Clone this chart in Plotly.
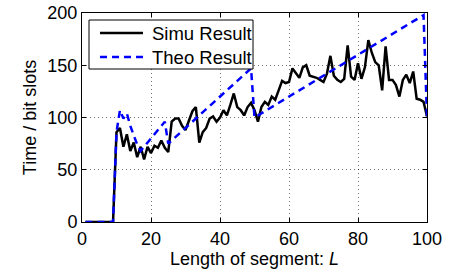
import plotly.graph_objects as go

segment_length = list(range(1, 101))

simu_result = [
    0, 0, 0, 0, 0, 0, 0, 0, 0,
    86, 90, 72, 84, 68, 76, 62, 72, 60, 72,
    66, 73, 71, 78, 71, 67, 96, 99, 99, 92,
    88, 98, 106, 110, 76, 86, 90, 99, 101, 96,
    100, 107, 102, 112, 123, 110, 107, 102, 110, 114,
    107, 96, 110, 115, 112, 120, 117, 126, 135, 133,
    134, 147, 143, 138, 148, 150, 140, 139, 138, 136,
    134, 142, 159, 140, 136, 134, 137, 169, 139, 136,
    152, 137, 148, 174, 162, 153, 150, 126, 168, 136,
    136, 131, 120, 136, 141, 133, 144, 118, 117, 115,
    101,
]

theo_result = [
    0, 0, 0, 0, 0, 0, 0, 0, 0,
    86, 107, 99, 104, 92, 82, 74, 68, 72, 76,
    80, 84, 88, 92, 96, 75, 78, 81, 84, 87,
    90, 93, 96, 99, 102, 105, 108, 111, 114, 117,
    120, 123, 126, 129, 132, 135, 138, 141, 144, 147,
    100, 102, 104, 106, 108, 110, 112, 114, 116, 118,
    120, 122, 124, 126, 128, 130, 132, 134, 136, 138,
    140, 142, 144, 146, 148, 150, 152, 154, 156, 158,
    160, 162, 164, 166, 168, 170, 172, 174, 176, 178,
    180, 182, 184, 186, 188, 190, 192, 194, 196, 198,
    100,
]

series_names = ["Simu Result", "Theo Result"]
x_ticks = [0, 20, 40, 60, 80, 100]
y_ticks = [0, 50, 100, 150, 200]

black_style = dict(color="black", width=2.5)
blue_style = dict(color="#0000ff", width=2.5, dash="7px,5px")

fig = go.Figure()
fig.add_trace(go.Scatter(
    x=segment_length, y=simu_result, mode="lines", name=series_names[0],
    line=black_style, showlegend=False,
))
fig.add_trace(go.Scatter(
    x=segment_length, y=theo_result, mode="lines", name=series_names[1],
    line=blue_style, showlegend=False,
))

font_family = "Liberation Sans, Arial, sans-serif"
axis_common = dict(
    showline=True, linecolor="black", linewidth=1, mirror="ticks",
    ticks="inside", ticklen=4, tickcolor="black", tickwidth=1,
    showgrid=True, gridcolor="rgba(0,0,0,0.55)", gridwidth=1, griddash="1px,3px",
    zeroline=False, automargin=False,
    tickfont=dict(size=18, color="black", family=font_family),
)

# manual MATLAB-style legend box
leg_x0, leg_x1, leg_y0, leg_y1 = 0.0203, 0.4957, 0.732, 0.9665
row_y = [0.904, 0.789]
samp_x0, samp_x1, text_x = 0.0522, 0.1768, 0.197
shapes = [dict(type="rect", xref="paper", yref="paper", x0=leg_x0, x1=leg_x1,
               y0=leg_y0, y1=leg_y1, line=dict(color="black", width=1),
               fillcolor="white", layer="above")]
annotations = []
for name, style, ry in zip(series_names, [black_style, blue_style], row_y):
    ln = dict(color=style["color"], width=style["width"])
    if "dash" in style:
        ln["dash"] = style["dash"]
    shapes.append(dict(type="line", xref="paper", yref="paper", x0=samp_x0, x1=samp_x1,
                       y0=ry, y1=ry, line=ln, layer="above"))
    annotations.append(dict(xref="paper", yref="paper", x=text_x, y=ry, text=name,
                            showarrow=False, xanchor="left", yanchor="middle",
                            font=dict(size=18.5, family=font_family, color="black")))

fig.update_layout(
    width=455, height=271,
    margin=dict(l=82, r=28, t=13, b=49),
    paper_bgcolor="white", plot_bgcolor="white",
    font=dict(family=font_family, color="black", size=18),
    showlegend=False,
    shapes=shapes,
    annotations=annotations,
    xaxis=dict(
        range=[0, 100], tickvals=x_ticks, ticktext=[str(v) for v in x_ticks],
        title=dict(text="Length of segment: <i>L</i>", font=dict(size=18), standoff=0),
        **axis_common,
    ),
    yaxis=dict(
        range=[0, 200], tickvals=y_ticks, ticktext=[str(v) for v in y_ticks],
        title=dict(text="Time / bit slots", font=dict(size=18), standoff=6),
        **axis_common,
    ),
)

fig.write_html("out.html", config={"displayModeBar": False},
               post_script="document.body.style.margin='0';")
